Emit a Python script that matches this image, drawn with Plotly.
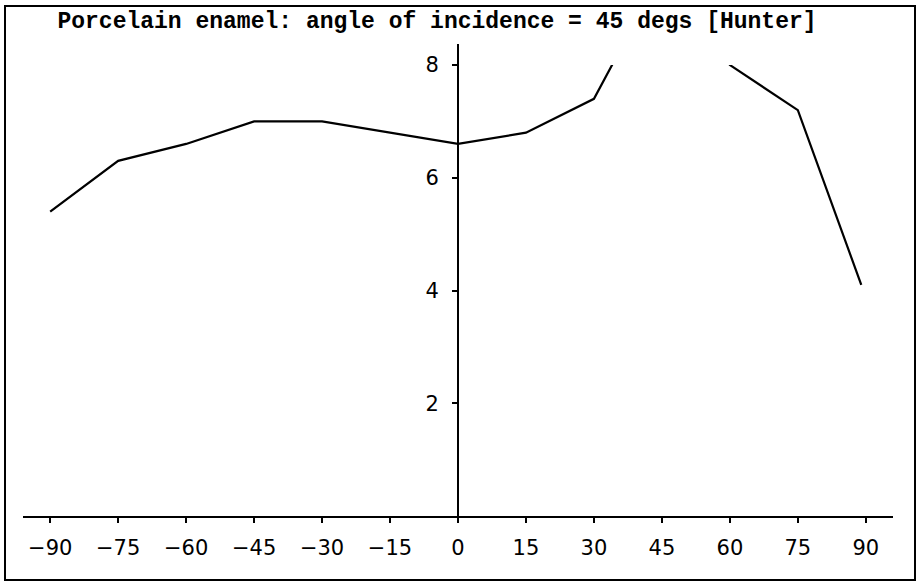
import plotly.graph_objects as go

# Data
angles = [-90, -75, -60, -45, -30, -15, 0, 15, 30, 45, 60, 75, 89]
values = [5.4, 6.3, 6.6, 7.0, 7.0, 6.8, 6.6, 6.8, 7.4, 9.65, 8.0, 7.2, 4.1]
x_ticks = [-90, -75, -60, -45, -30, -15, 0, 15, 30, 45, 60, 75, 90]
y_ticks = [2, 4, 6, 8]
title_text = "Porcelain enamel: angle of incidence = 45 degs [Hunter]"

W, H = 921, 582
ml, mr, mt, mb = 23, 28, 65, 66
pw = W - ml - mr
ph = H - mt - mb

fig = go.Figure()
fig.add_trace(go.Scatter(
    x=angles, y=values, mode="lines",
    line=dict(color="black", width=2.2),
    showlegend=False, hoverinfo="x+y",
))

tick_font = dict(family="DejaVu Sans, Verdana, sans-serif", size=21, color="black")

fig.update_layout(
    width=W, height=H,
    margin=dict(l=ml, r=mr, t=mt, b=mb, autoexpand=False),
    paper_bgcolor="white", plot_bgcolor="white",
    title=dict(
        text=title_text,
        font=dict(family="Liberation Mono, Courier New, monospace", size=23, color="black", weight="bold"),
        x=437 / W, xref="container", xanchor="center",
        y=1 - 20 / H, yref="container", yanchor="middle",
    ),
    xaxis=dict(
        range=[-96, 96], tickvals=x_ticks,
        showline=True, linecolor="black", linewidth=2,
        ticks="outside", ticklen=5, tickwidth=2, tickcolor="black",
        showgrid=False, zeroline=False, tickfont=tick_font,
        ticklabelstandoff=7,
    ),
    yaxis=dict(
        range=[0, 8], tickvals=y_ticks,
        anchor="free", position=0.5,
        showline=False,
        ticks="outside", ticklen=6, tickwidth=2, tickcolor="black",
        showgrid=False, zeroline=False, tickfont=tick_font,
        ticklabelstandoff=9,
    ),
)

# vertical axis line at x = 0, extending a bit above the plot area
fig.add_shape(type="line", xref="x", yref="paper",
              x0=0, x1=0, y0=0, y1=1 + 21 / ph,
              line=dict(color="black", width=2))

# outer frame
fig.add_shape(type="rect", xref="paper", yref="paper",
              x0=(5 - ml) / pw, x1=(915 - ml) / pw,
              y0=-(H - 2 - (H - mb)) / ph, y1=1 + (mt - 6) / ph,
              line=dict(color="black", width=2), fillcolor="rgba(0,0,0,0)")

fig.write_html("out.html", config={"displayModeBar": False},
               post_script="document.body.style.margin='0';document.body.style.overflow='hidden';")
